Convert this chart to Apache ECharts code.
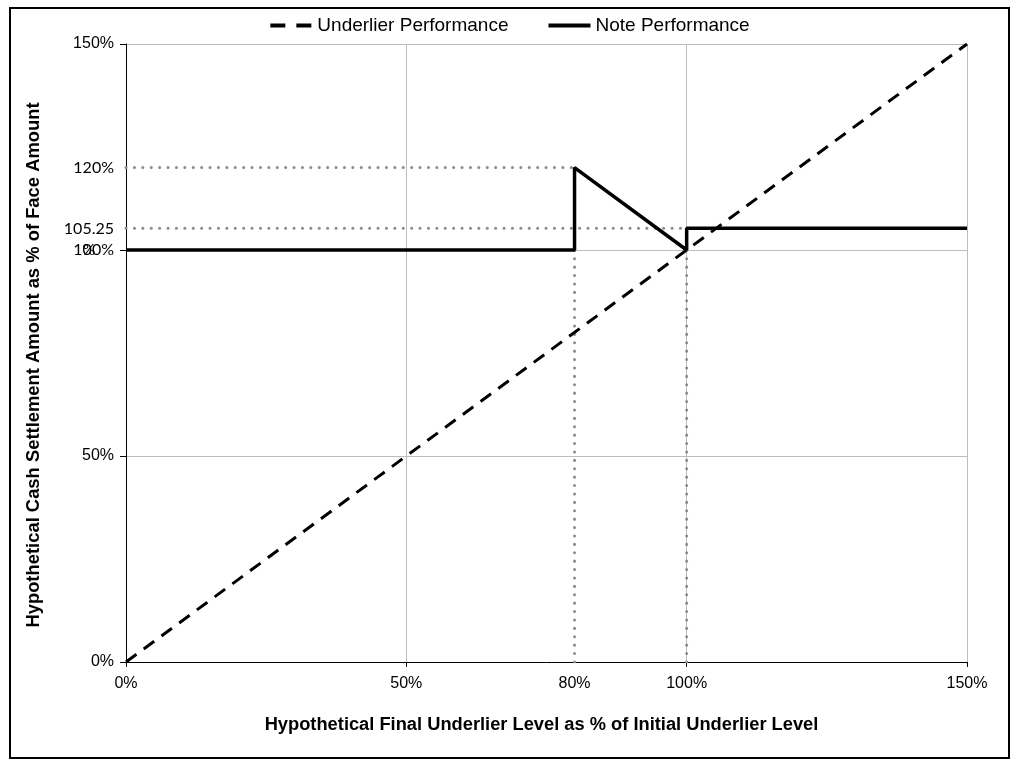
<!DOCTYPE html>
<html>
<head>
<meta charset="utf-8">
<script src="https://cdn.jsdelivr.net/npm/echarts@6/dist/echarts.min.js"></script>
<style>
html, body { margin: 0; padding: 0; background: #fff; }
#chart { width: 1018px; height: 766px; }
</style>
</head>
<body>
<div id="chart"></div>
<script>
// underlier performance: straight line from 0 to 150
var underlierX = [0, 150];
var underlierY = [0, 150];

// note performance
var noteX = [0, 80, 80, 100, 100, 150];
var noteY = [100, 100, 120, 100, 105.25, 105.25];

// dotted guide lines (pairs of points)
var guides = [
	[[0, 120], [80, 120]],
	[[0, 105.25], [100, 105.25]],
	[[80, 0], [80, 100]],
	[[100, 0], [100, 100]]
];

var xTicks = [0, 50, 80, 100, 150];
var yTicks = [0, 50, 100, 105.25, 120, 150];

function pairs(xs, ys) {
	return xs.map(function (x, i) { return [x, ys[i]]; });
}

var chart = echarts.init(document.getElementById('chart'));

var series = [
	{
		name: 'Underlier Performance',
		type: 'line',
		data: pairs(underlierX, underlierY),
		symbol: 'none',
		color: '#000',
		z: 5,
		lineStyle: { color: '#000', width: 3, type: [13, 9] }
	},
	{
		name: 'Note Performance',
		type: 'line',
		data: pairs(noteX, noteY),
		symbol: 'none',
		color: '#000',
		z: 6,
		lineStyle: { color: '#000', width: 3.5, type: 'solid' }
	}
];

guides.forEach(function (g, i) {
	series.push({
		name: 'guide' + i,
		type: 'line',
		data: g,
		symbol: 'none',
		silent: true,
		z: 3,
		lineStyle: { color: '#8c8c8c', width: 3, type: [0.1, 8.3], cap: 'round' }
	});
});

var option = {
	animation: false,
	textStyle: { fontFamily: 'Liberation Sans' },
	graphic: [{
		type: 'rect',
		shape: { x: 10, y: 8, width: 999, height: 750 },
		style: { fill: 'none', stroke: '#000', lineWidth: 2 }
	}],
	legend: {
		data: [
			{ name: 'Underlier Performance', lineStyle: { type: [15, 11], width: 4 } },
			{ name: 'Note Performance', lineStyle: { width: 4 } }
		],
		top: 11,
		left: 'center',
		itemWidth: 42,
		itemHeight: 12,
		itemGap: 38,
		itemStyle: { opacity: 0 },
		textStyle: { fontSize: 19, color: '#000', fontFamily: 'Liberation Sans' }
	},
	grid: { left: 126, right: 51, top: 44, bottom: 104 },
	xAxis: {
		type: 'value',
		min: 0,
		max: 150,
		interval: 50,
		name: 'Hypothetical Final Underlier Level as % of Initial Underlier Level',
		nameLocation: 'middle',
		nameGap: 54,
		nameTextStyle: { fontSize: 18.3, fontWeight: 'bold', color: '#000', fontFamily: 'Liberation Sans', padding: [0, 10, 0, 0] },
		axisLine: { lineStyle: { color: '#000', width: 1 } },
		axisTick: { show: true, length: 5, inside: false, lineStyle: { color: '#000' } },
		splitLine: { show: true, lineStyle: { color: '#bdbdbd', width: 1 } },
		axisLabel: {
			customValues: xTicks,
			margin: 14,
			fontSize: 16,
			color: '#000',
			formatter: function (v) { return v + '%'; }
		}
	},
	yAxis: {
		type: 'value',
		min: 0,
		max: 150,
		interval: 50,
		name: 'Hypothetical Cash Settlement Amount as % of Face Amount',
		nameLocation: 'middle',
		nameGap: 83,
		nameTextStyle: { fontSize: 18.4, fontWeight: 'bold', color: '#000', fontFamily: 'Liberation Sans', padding: [0, 24, 0, 0] },
		axisLine: { show: true, lineStyle: { color: '#000', width: 1 } },
		axisTick: { show: true, length: 6, inside: false, lineStyle: { color: '#000' } },
		splitLine: { show: true, lineStyle: { color: '#bdbdbd', width: 1 } },
		axisLabel: {
			customValues: yTicks,
			margin: 12,
			fontSize: 16,
			color: '#000',
			formatter: function (v) {
				if (v === 105.25) return '{e| }\n{c|105.25}\n{p|%}';
				if (v === 120 || v === 100) return '{c|' + v + '%}';
				return v + '%';
			},
			rich: {
				e: { fontSize: 16, lineHeight: 21, fontFamily: 'Lato' },
				c: { fontSize: 16, lineHeight: 21, fontFamily: 'Lato', color: '#000' },
				p: { fontSize: 16, lineHeight: 21, fontFamily: 'Lato', color: '#000', align: 'center' }
			}
		}
	},
	series: series
};

chart.setOption(option);
</script>
</body>
</html>
